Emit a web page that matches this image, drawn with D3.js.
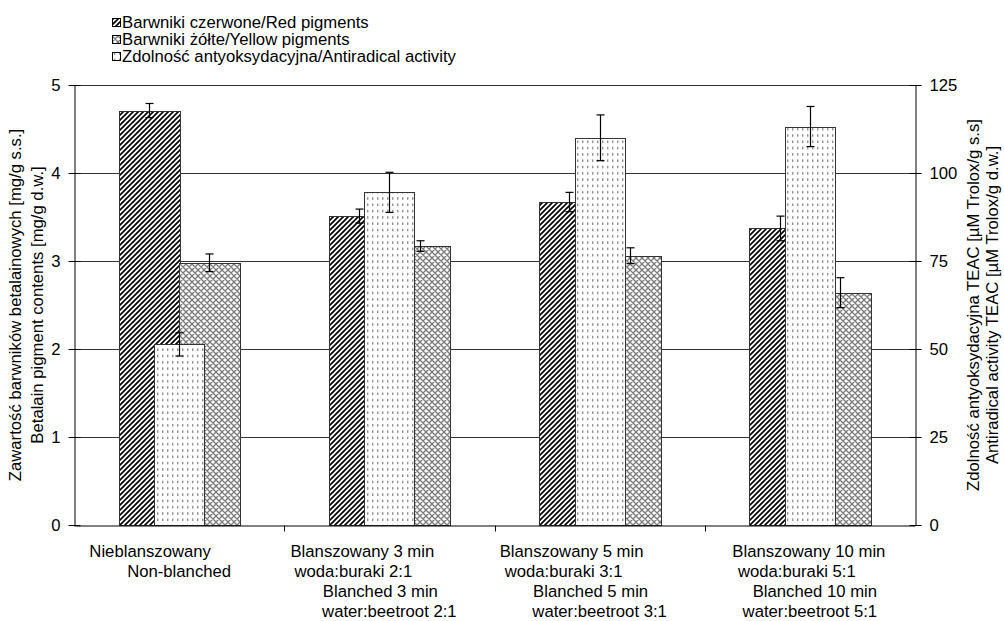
<!DOCTYPE html>
<html>
<head>
<meta charset="utf-8">
<script src="https://cdn.jsdelivr.net/npm/d3@7"></script>
<style>
  html, body { margin: 0; padding: 0; background: #fff; }
  svg { display: block; font-family: "Liberation Sans", Arial, sans-serif; }
  text { fill: #000; }
</style>
</head>
<body>
<div id="chart"></div>
<script>
// category labels, one array of lines per group
const categories = [
  ["Nieblanszowany", "Non-blanched"],
  ["Blanszowany 3 min", "woda:buraki 2:1", "Blanched 3 min", "water:beetroot 2:1"],
  ["Blanszowany 5 min", "woda:buraki 3:1", "Blanched 5 min", "water:beetroot 3:1"],
  ["Blanszowany 10 min", "woda:buraki 5:1", "Blanched 10 min", "water:beetroot 5:1"]
];

// left axis, mg/g d.w.
const redPigments = [4.71, 3.51, 3.67, 3.37];
const redErr = [0.08, 0.08, 0.11, 0.14];
const yellowPigments = [2.98, 3.17, 3.06, 2.64];
const yellowErr = [0.10, 0.06, 0.09, 0.17];

// right axis, uM Trolox/g d.w.
const activity = [51.3, 94.5, 110, 113.2];
const activityErr = [3.3, 5.7, 6.5, 5.7];

const leftTicks = [0, 1, 2, 3, 4, 5];
const rightTicks = [0, 25, 50, 75, 100, 125];

const legendLabels = [
  "Barwniki czerwone/Red pigments",
  "Barwniki żółte/Yellow pigments",
  "Zdolność antyoksydacyjna/Antiradical activity"
];

const leftTitle = ["Zawartość barwników betalainowych [mg/g s.s.]", "Betalain pigment contents [mg/g d.w.]"];
const rightTitle = ["Zdolność antyoksydacyjna TEAC [µM Trolox/g s.s]", "Antiradical activity TEAC [µM Trolox/g d.w.]"];

// small nudges of the wrapped label lines (Excel centred them with trailing blanks)
const labelShift = [[-29, 0], [-27, -36, -9, 0], [-28, -36, -9, 0], [-1, -13, 5, 0]];

const width = 1004;
const height = 621;
const plot = { left: 74, right: 915, top: 85, bottom: 525 };
const fontSize = 16.7;

const svg = d3.select("#chart").append("svg")
  .attr("width", width)
  .attr("height", height);

const defs = svg.append("defs");

const hatch = defs.append("pattern")
  .attr("id", "pat-red")
  .attr("patternUnits", "userSpaceOnUse")
  .attr("width", 5).attr("height", 5);
hatch.append("rect").attr("width", 5).attr("height", 5).attr("fill", "#fff");
hatch.append("path")
  .attr("d", "M-1,1 L1,-1 M0,5 L5,0 M4,6 L6,4")
  .attr("stroke", "#000").attr("stroke-width", 1.7);

const cross = defs.append("pattern")
  .attr("id", "pat-yellow")
  .attr("patternUnits", "userSpaceOnUse")
  .attr("width", 6).attr("height", 6);
cross.append("rect").attr("width", 6).attr("height", 6).attr("fill", "#fff");
cross.append("path")
  .attr("d", "M-1,1 L1,-1 M0,6 L6,0 M5,7 L7,5 M-1,5 L1,7 M0,0 L6,6 M5,-1 L7,1")
  .attr("stroke", "#7a7a7a").attr("stroke-width", 1.3);

const dots = defs.append("pattern")
  .attr("id", "pat-activity")
  .attr("patternUnits", "userSpaceOnUse")
  .attr("width", 5).attr("height", 6.3);
dots.append("rect").attr("width", 5).attr("height", 6.3).attr("fill", "#fff");
dots.append("rect")
  .attr("x", 2).attr("y", 2).attr("width", 1.4).attr("height", 2.4)
  .attr("fill", "#8a8a8a");

const x0 = d3.scaleBand()
  .domain(d3.range(categories.length))
  .range([plot.left, plot.right])
  .padding(0);

const pairWidth = 121;
const x1 = d3.scaleBand()
  .domain(["red", "yellow"])
  .range([-pairWidth / 2, pairWidth / 2]);
const activityWidth = 50;

const yLeft = d3.scaleLinear().domain([0, 5]).range([plot.bottom, plot.top]);
const yRight = d3.scaleLinear().domain([0, 125]).range([plot.bottom, plot.top]);

// gridlines
svg.append("g")
  .selectAll("line")
  .data(leftTicks.filter((t) => t > 0))
  .join("line")
  .attr("x1", plot.left).attr("x2", plot.right)
  .attr("y1", (d) => Math.round(yLeft(d)) + 0.5)
  .attr("y2", (d) => Math.round(yLeft(d)) + 0.5)
  .attr("stroke", "#333").attr("stroke-width", 1);

const centre = (i) => x0(i) + x0.bandwidth() / 2;

const primary = [
  { key: "red", values: redPigments, errs: redErr, fill: "url(#pat-red)" },
  { key: "yellow", values: yellowPigments, errs: yellowErr, fill: "url(#pat-yellow)" }
];

const barsGroup = svg.append("g");
primary.forEach((s) => {
  barsGroup.append("g")
    .selectAll("rect")
    .data(s.values)
    .join("rect")
    .attr("x", (d, i) => Math.round(centre(i) + x1(s.key)) + 0.5)
    .attr("y", (d) => Math.round(yLeft(d)) + 0.5)
    .attr("width", Math.round(x1.bandwidth()))
    .attr("height", (d) => Math.round(yLeft(0)) - Math.round(yLeft(d)))
    .attr("fill", s.fill)
    .attr("stroke", "#333").attr("stroke-width", 1);
});

barsGroup.append("g")
  .selectAll("rect")
  .data(activity)
  .join("rect")
  .attr("x", (d, i) => Math.round(centre(i) - activityWidth / 2) + 0.5)
  .attr("y", (d) => Math.round(yRight(d)) + 0.5)
  .attr("width", activityWidth)
  .attr("height", (d) => Math.round(yRight(0)) - Math.round(yRight(d)))
  .attr("fill", "url(#pat-activity)")
  .attr("stroke", "#333").attr("stroke-width", 1);

// error bars
function drawErrors(values, errs, xFor, yScale) {
  const g = svg.append("g").attr("stroke", "#000").attr("stroke-width", 1.2);
  values.forEach((v, i) => {
    const cx = Math.round(xFor(i)) + 0.5;
    const yt = yScale(v + errs[i]);
    const yb = yScale(v - errs[i]);
    g.append("line").attr("x1", cx).attr("x2", cx).attr("y1", yt).attr("y2", yb);
    g.append("line").attr("x1", cx - 4).attr("x2", cx + 4).attr("y1", yt).attr("y2", yt);
    g.append("line").attr("x1", cx - 4).attr("x2", cx + 4).attr("y1", yb).attr("y2", yb);
  });
}
drawErrors(redPigments, redErr, (i) => centre(i) + x1("red") + x1.bandwidth() / 2, yLeft);
drawErrors(yellowPigments, yellowErr, (i) => centre(i) + x1("yellow") + x1.bandwidth() / 2, yLeft);
drawErrors(activity, activityErr, (i) => centre(i), yRight);

// axes
const leftAxis = svg.append("g")
  .attr("transform", `translate(${plot.left + 0.5},0)`)
  .call(d3.axisLeft(yLeft).tickValues(leftTicks).tickFormat(d3.format("d")).tickSizeInner(6).tickSizeOuter(0).tickPadding(8));
leftAxis.selectAll(".tick line").attr("x2", 6).attr("x1", -6);

const rightAxis = svg.append("g")
  .attr("transform", `translate(${plot.right + 0.5},0)`)
  .call(d3.axisRight(yRight).tickValues(rightTicks).tickFormat(d3.format("d")).tickSizeInner(6).tickSizeOuter(0).tickPadding(8));
rightAxis.selectAll(".tick line").attr("x1", -6).attr("x2", 6);

const bottomAxis = svg.append("g")
  .attr("transform", `translate(0,${Math.round(plot.bottom) + 0.5})`)
  .call(d3.axisBottom(x0).tickValues([]).tickSizeOuter(0));
bottomAxis.selectAll(".bound")
  .data(d3.range(1, categories.length))
  .join("line")
  .attr("class", "bound")
  .attr("x1", (d) => Math.round(x0(d)) + 0.5)
  .attr("x2", (d) => Math.round(x0(d)) + 0.5)
  .attr("y1", 0).attr("y2", 6)
  .attr("stroke", "#000");

[leftAxis, rightAxis, bottomAxis].forEach((a) => {
  a.select(".domain").attr("stroke", "#000").attr("stroke-width", 1);
  a.selectAll(".tick line").attr("stroke", "#000");
  a.selectAll("text").attr("font-size", fontSize).attr("font-family", "Liberation Sans, Arial, sans-serif").attr("fill", "#000");
});

// category labels
const catLabels = svg.append("g")
  .attr("font-size", fontSize)
  .attr("text-anchor", "middle");
categories.forEach((lines, i) => {
  lines.forEach((line, j) => {
    catLabels.append("text")
      .attr("x", centre(i) + labelShift[i][j])
      .attr("y", 557 + j * 20)
      .text(line);
  });
});

// axis titles
function axisTitle(lines, xs) {
  const cy = (plot.top + plot.bottom) / 2;
  lines.forEach((line, j) => {
    svg.append("text")
      .attr("transform", `translate(${xs[j]},${cy}) rotate(-90)`)
      .attr("text-anchor", "middle")
      .attr("dominant-baseline", "central")
      .attr("font-size", fontSize)
      .text(line);
  });
}
axisTitle(leftTitle, [15, 37]);
axisTitle(rightTitle, [973, 992]);

// legend
const legendFills = ["url(#pat-red)", "url(#pat-yellow)", "url(#pat-activity)"];
const legend = svg.append("g").attr("transform", "translate(112,0)");
legendLabels.forEach((label, i) => {
  const cy = 22 + i * 17;
  legend.append("rect")
    .attr("x", 0.5).attr("y", Math.round(cy - 4) + 0.5)
    .attr("width", 8).attr("height", 8)
    .attr("fill", legendFills[i])
    .attr("stroke", "#000");
  legend.append("text")
    .attr("x", 10).attr("y", cy)
    .attr("dominant-baseline", "central")
    .attr("font-size", fontSize)
    .text(label);
});
</script>
</body>
</html>
